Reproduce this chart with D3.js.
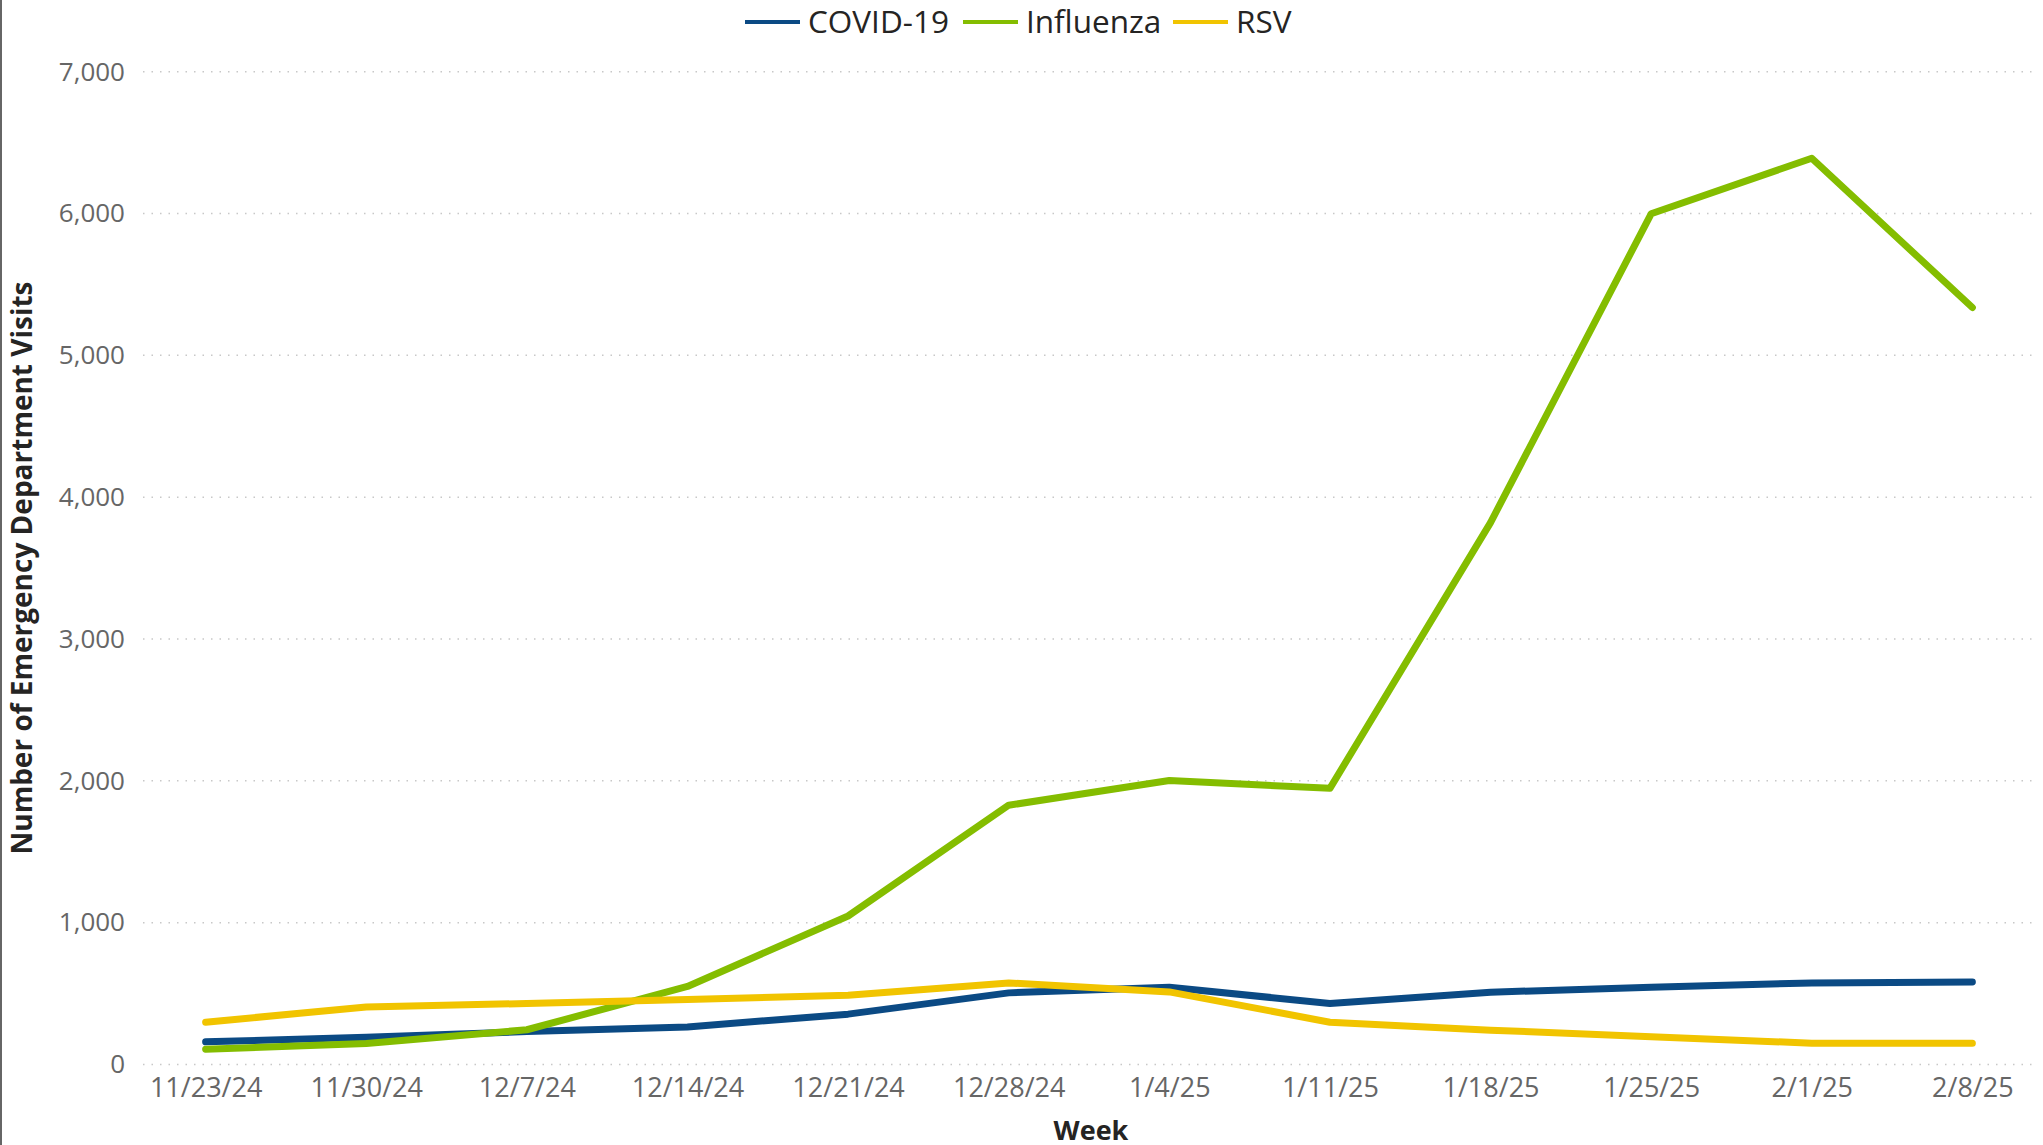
<!DOCTYPE html>
<html>
<head>
<meta charset="utf-8">
<script src="https://cdn.jsdelivr.net/npm/d3@7"></script>
<style>
  body { margin: 0; background: #fff; }
  svg text { font-family: "Open Sans", "Noto Sans", sans-serif; }
  .grid line { stroke: #c8c8c8; stroke-width: 1.5; stroke-dasharray: 1.5,7; }
  .tick text { fill: #666; }
</style>
</head>
<body>
<svg width="2043" height="1145"></svg>
<script>
var weeks = ["11/23/24", "11/30/24", "12/7/24", "12/14/24", "12/21/24", "12/28/24",
             "1/4/25", "1/11/25", "1/18/25", "1/25/25", "2/1/25", "2/8/25"];
var covid     = [160, 192, 232, 265, 355, 505, 545, 430, 510, 545, 575, 582];
var influenza = [108, 148, 245, 550, 1047, 1828, 2003, 1947, 3821, 5998, 6390, 5337];
var rsv       = [298, 406, 430, 458, 488, 575, 512, 298, 242, 196, 150, 150];
var yTicks = [0, 1000, 2000, 3000, 4000, 5000, 6000, 7000];

var series = [
  {name: "COVID-19",  values: covid,     color: "#0B4A84"},
  {name: "Influenza", values: influenza, color: "#84BD00"},
  {name: "RSV",       values: rsv,       color: "#F1C400"}
];

var svg = d3.select("svg");

var x = d3.scalePoint()
  .domain(weeks)
  .range([143, 2035])
  .padding(0.39);

var y = d3.scaleLinear()
  .domain([0, 7000])
  .range([1064.5, 71.7]);

// left frame line
svg.append("line")
  .attr("x1", 1).attr("x2", 1)
  .attr("y1", 0).attr("y2", 1145)
  .attr("stroke", "#666").attr("stroke-width", 2);

// gridlines
svg.append("g")
  .attr("class", "grid")
  .selectAll("line")
  .data(yTicks)
  .enter().append("line")
    .attr("x1", 143).attr("x2", 2035)
    .attr("y1", d => y(d)).attr("y2", d => y(d));

// y axis labels
var yAxis = svg.append("g")
  .attr("transform", "translate(143,0)")
  .call(d3.axisLeft(y).tickValues(yTicks).tickFormat(d3.format(",")).tickSize(0).tickPadding(18));
yAxis.select(".domain").remove();
yAxis.selectAll("text").attr("font-size", 26).attr("font-family", null);

// x axis labels
var xAxis = svg.append("g")
  .attr("transform", "translate(0,1074)")
  .call(d3.axisBottom(x).tickSize(0).tickPadding(4));
xAxis.select(".domain").remove();
xAxis.selectAll("text").attr("font-size", 27).attr("font-family", null);

// axis titles
svg.append("text")
  .attr("x", 1091).attr("y", 1140)
  .attr("text-anchor", "middle")
  .attr("font-size", 27).attr("font-weight", "bold")
  .attr("fill", "#252423")
  .text("Week");

svg.append("text")
  .attr("transform", "translate(32,568) rotate(-90)")
  .attr("text-anchor", "middle")
  .attr("font-size", 28).attr("font-weight", "bold")
  .attr("fill", "#252423")
  .text("Number of Emergency Department Visits");

// lines
var line = d3.line()
  .x((d, i) => x(weeks[i]))
  .y(d => y(d));

svg.append("g").selectAll("path")
  .data(series)
  .enter().append("path")
    .attr("d", d => line(d.values))
    .attr("fill", "none")
    .attr("stroke", d => d.color)
    .attr("stroke-width", 7)
    .attr("stroke-linecap", "round")
    .attr("stroke-linejoin", "round");

// legend
var legendX = [745, 963, 1173];
var legend = svg.append("g").selectAll("g")
  .data(series)
  .enter().append("g")
    .attr("transform", (d, i) => "translate(" + legendX[i] + ",22)");
legend.append("line")
  .attr("x1", 0).attr("x2", 55)
  .attr("stroke", d => d.color)
  .attr("stroke-width", 4);
legend.append("text")
  .attr("x", 63).attr("dy", "0.35em")
  .attr("font-size", 31.5)
  .attr("fill", "#252423")
  .text(d => d.name);
</script>
</body>
</html>
